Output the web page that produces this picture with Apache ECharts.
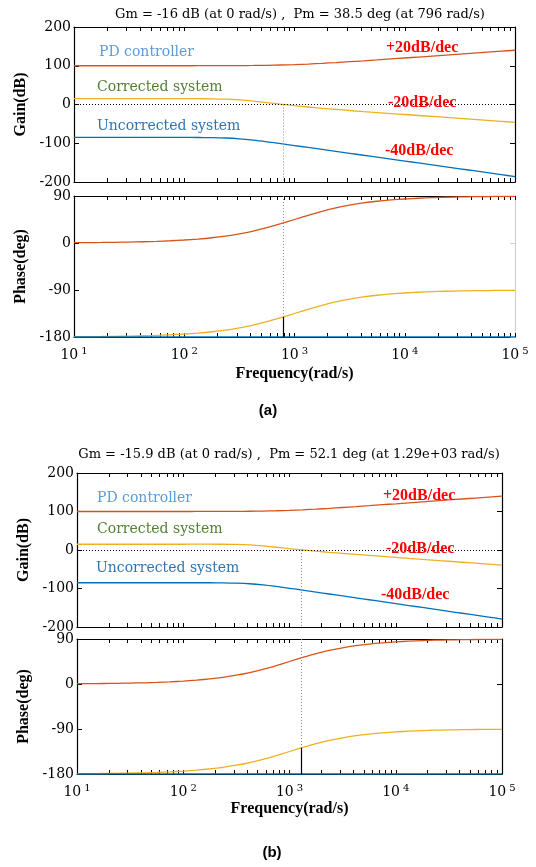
<!DOCTYPE html>
<html><head><meta charset="utf-8">
<script src="https://cdn.jsdelivr.net/npm/echarts@6/dist/echarts.min.js"></script>
<style>html,body{margin:0;padding:0;background:#fff}#c{width:536px;height:867px}</style>
</head><body><div id="c"></div><script>
// ---------- data ----------
const freq = [10, 13.3, 17.8, 23.7, 31.6, 42.2, 56.2, 75, 100, 133, 178, 237, 316, 422, 562, 750,
  1000, 1330, 1780, 2370, 3160, 4220, 5620, 7500, 10000, 13300, 17800, 23700, 31600, 42200, 56200, 75000, 100000];
const xMajor = [10, 100, 1000, 10000, 100000];
const gainTicks = [-200, -100, 0, 100, 200];
const phaseTicks = [-180, -90, 0, 90];

// (a)
const pdGainA   = [100.0,100.0,100.0,100.0,100.0,100.0,100.0,100.0,100.04,100.08,100.14,100.24,100.41,100.71,101.19,101.94,
  103.01,104.45,106.2,108.2,110.4,112.7,115.1,117.6,120.0,122.5,125.0,127.5,130.0,132.5,135.0,137.5,140.0];
const corrGainA = [15.0,15.0,15.0,15.0,15.0,15.0,15.0,15.0,14.99,14.92,14.63,13.81,11.93,8.79,4.95,0.91,
  -2.94,-6.43,-9.74,-12.71,-15.49,-18.19,-20.77,-23.34,-25.86,-28.4,-30.9,-33.4,-35.9,-38.4,-40.9,-43.4,-45.9];
const uncGainA  = [-85.0,-85.0,-85.0,-85.0,-85.0,-85.0,-85.01,-85.02,-85.05,-85.16,-85.51,-86.43,-88.48,-91.92,-96.24,-101.03,
  -105.95,-110.88,-115.94,-120.91,-125.9,-130.93,-135.9,-140.92,-145.9,-150.9,-155.9,-160.9,-165.9,-170.9,-175.9,-180.9,-185.9];
const pdPhaseA  = [0.57,0.76,1.02,1.36,1.81,2.42,3.22,4.29,5.71,7.58,10.09,13.33,17.55,22.88,29.34,36.87,
  45.0,53.06,60.67,67.13,72.44,76.67,79.91,82.41,84.29,85.7,86.78,87.58,88.19,88.64,88.98,89.24,89.43];
const corrPhaseA= [-179.43,-179.24,-178.98,-178.64,-178.19,-177.58,-176.78,-175.71,-174.29,-172.42,-169.91,-166.67,-162.45,-157.12,-150.66,-143.13,
  -135.0,-126.94,-119.33,-112.87,-107.56,-103.33,-100.09,-97.59,-95.71,-94.3,-93.22,-92.42,-91.81,-91.36,-91.02,-90.76,-90.57];
const uncPhaseA = [-180,-180,-180,-180,-180,-180,-180,-180,-180,-180,-180,-180,-180,-180,-180,-180,
  -180,-180,-180,-180,-180,-180,-180,-180,-180,-180,-180,-180,-180,-180,-180,-180,-180];
const crossA = 796, pmA = 38.5;
const titleA = 'Gm = -16 dB (at 0 rad/s) ,  Pm = 38.5 deg (at 796 rad/s)';

// (b)
const pdGainB   = [100.0,100.0,100.0,100.0,100.0,100.0,100.0,100.0,100.04,100.08,100.14,100.24,100.41,100.71,101.19,101.94,
  103.01,104.45,106.2,108.2,110.4,112.7,115.1,117.6,120.0,122.5,125.0,127.5,130.0,132.5,135.0,137.5,140.0];
const corrGainB = [15.0,15.0,15.0,15.0,15.0,15.0,15.0,15.0,15.0,15.04,15.03,14.89,14.39,13.05,10.56,7.19,
  3.59,0.18,-3.1,-6.06,-8.86,-11.54,-14.15,-16.69,-19.23,-21.77,-24.27,-26.77,-29.27,-31.77,-34.27,-36.77,-39.27];
const uncGainB  = [-85.0,-85.0,-85.0,-85.0,-85.0,-85.0,-85.0,-85.0,-85.01,-85.04,-85.11,-85.35,-86.02,-87.66,-90.63,-94.75,
  -99.42,-104.27,-109.3,-114.26,-119.26,-124.28,-129.25,-134.27,-139.27,-144.27,-149.27,-154.27,-159.27,-164.27,-169.27,-174.27,-179.27];
const pdPhaseB  = [0.57,0.76,1.02,1.36,1.81,2.42,3.22,4.29,5.71,7.58,10.09,13.33,17.55,22.88,29.34,36.87,
  45.0,53.06,60.67,67.13,72.44,76.67,79.91,82.41,84.29,85.7,86.78,87.58,88.19,88.64,88.98,89.24,89.43];
const corrPhaseB= [-179.43,-179.24,-178.98,-178.64,-178.19,-177.58,-176.78,-175.71,-174.29,-172.42,-169.91,-166.67,-162.45,-157.12,-150.66,-143.13,
  -135.0,-126.94,-119.33,-112.87,-107.56,-103.33,-100.09,-97.59,-95.71,-94.3,-93.22,-92.42,-91.81,-91.36,-91.02,-90.76,-90.57];
const uncPhaseB = [-180,-180,-180,-180,-180,-180,-180,-180,-180,-180,-180,-180,-180,-180,-180,-180,
  -180,-180,-180,-180,-180,-180,-180,-180,-180,-180,-180,-180,-180,-180,-180,-180,-180];
const crossB = 1290, pmB = 52.1;
const titleB = 'Gm = -15.9 dB (at 0 rad/s) ,  Pm = 52.1 deg (at 1.29e+03 rad/s)';

const legendTexts = ['PD controller', 'Corrected system', 'Uncorrected system'];
const slopeTexts = ['+20dB/dec', '-20dB/dec', '-40dB/dec'];

// ---------- style ----------
const C_PD = '#D95319', C_CORR = '#EDB120', C_UNC = '#0072BD';
const LEG_COLORS = ['#5B9BD5', '#538135', '#2E75B6'];
const SERIF = '"DejaVu Serif"';
const TSERIF = '"Liberation Serif"';

const xMinor = [];
for (let d = 10; d < 100000; d *= 10) for (let k = 2; k <= 9; k++) xMinor.push(d * k);
const xTickVals = xMajor.concat(xMinor);

const grids = [
  {left: 74, width: 441, top: 27, height: 155},
  {left: 74, width: 441, top: 196, height: 141},
  {left: 77, width: 425, top: 473, height: 154},
  {left: 77, width: 425, top: 639, height: 135}
];

const xAxes = [], yAxes = [];
grids.forEach((g, gi) => {
  const isPhase = gi % 2 === 1;
  const common = {
    type: 'log', logBase: 10, gridIndex: gi, min: 10, max: 100000,
    axisLine: {show: true, onZero: false, lineStyle: {color: '#000', width: 1.2}},
    axisTick: {show: true, inside: true, length: 4, customValues: xTickVals, lineStyle: {color: '#000', width: 1}},
    splitLine: {show: false}
  };
  xAxes.push(Object.assign({}, common, {
    position: 'bottom',
    axisLabel: {
      show: isPhase, customValues: xMajor, margin: 9, color: '#000',
      formatter: v => '{b|10}{s|' + Math.round(Math.log10(v)) + '}',
      rich: {
        b: {fontFamily: SERIF, fontSize: 14, color: '#000', lineHeight: 18},
        s: {fontFamily: SERIF, fontSize: 10, color: '#000', lineHeight: 10, verticalAlign: 'top', padding: [0, 0, 0, 3]}
      }
    },
    name: isPhase ? 'Frequency(rad/s)' : '',
    nameLocation: 'middle', nameGap: gi === 1 ? 29 : 27,
    nameTextStyle: {fontFamily: TSERIF, fontWeight: 'bold', fontSize: 16, color: '#000'}
  }));
  xAxes.push(Object.assign({}, common, {position: 'top', axisLabel: {show: false},
    axisLine: {show: true, onZero: false, lineStyle: {color: '#000', width: 1.2}}}));

  const yCommon = {
    type: 'value', gridIndex: gi,
    min: isPhase ? phaseTicks[0] : gainTicks[0],
    max: isPhase ? phaseTicks[phaseTicks.length - 1] : gainTicks[gainTicks.length - 1],
    interval: isPhase ? 90 : 100,
    splitLine: {show: false},
    axisTick: {show: true, inside: true, length: 5, lineStyle: {color: '#000'}}
  };
  const nameGaps = [41, 44, 34, 29];
  yAxes.push(Object.assign({}, yCommon, {
    position: 'left',
    axisLine: {show: true, onZero: false, lineStyle: {color: '#000', width: 1.2}},
    axisLabel: {fontFamily: SERIF, fontSize: 14, color: '#000', margin: 3},
    name: isPhase ? 'Phase(deg)' : 'Gain(dB)', nameLocation: 'middle', nameGap: nameGaps[gi],
    nameTextStyle: {fontFamily: TSERIF, fontWeight: 'bold', fontSize: 16, color: '#000'}
  }));
  yAxes.push(Object.assign({}, yCommon, {
    position: 'right', axisLabel: {show: false},
    axisLine: {show: true, onZero: false, lineStyle: {color: gi === 1 ? '#cfcfcf' : '#000', width: 1.2}},
    axisTick: {show: true, inside: true, length: 5, lineStyle: {color: gi === 1 ? '#cfcfcf' : '#000'}}
  }));
});

function line(vals, color, gi, extra) {
  return Object.assign({
    type: 'line', xAxisIndex: 2 * gi, yAxisIndex: 2 * gi,
    data: freq.map((f, i) => [f, vals[i]]),
    showSymbol: false, symbol: 'none', smooth: 0.25, silent: true,
    lineStyle: {color: color, width: 1.3}, itemStyle: {color: color}, z: 3
  }, extra || {});
}

const dotGray = {type: [1, 2], color: '#8a8a8a', width: 1};
const dotBlack = {type: [1, 2], color: '#000', width: 1};
const solidBlack = {type: 'solid', color: '#000', width: 1.2};

function gainMarks(cross) {
  return {markLine: {symbol: ['none', 'none'], silent: true, animation: false, label: {show: false},
    data: [
      [{coord: [10, 0], lineStyle: dotBlack}, {coord: [100000, 0], lineStyle: dotBlack}],
      [{coord: [cross, 0], lineStyle: dotGray}, {coord: [cross, -200], lineStyle: dotGray}]
    ]}};
}
function phaseMarks(cross, pm) {
  const p = -180 + pm;
  return {markLine: {symbol: ['none', 'none'], silent: true, animation: false, label: {show: false},
    data: [
      [{coord: [cross, 90], lineStyle: dotGray}, {coord: [cross, p], lineStyle: dotGray}],
      [{coord: [cross, p], lineStyle: solidBlack}, {coord: [cross, -180], lineStyle: solidBlack}]
    ]}};
}

const series = [
  line(pdGainA, C_PD, 0), line(corrGainA, C_CORR, 0, gainMarks(crossA)), line(uncGainA, C_UNC, 0),
  line(pdPhaseA, C_PD, 1), line(corrPhaseA, C_CORR, 1, phaseMarks(crossA, pmA)), line(uncPhaseA, C_UNC, 1),
  line(pdGainB, C_PD, 2), line(corrGainB, C_CORR, 2, gainMarks(crossB)), line(uncGainB, C_UNC, 2),
  line(pdPhaseB, C_PD, 3), line(corrPhaseB, C_CORR, 3, phaseMarks(crossB, pmB)), line(uncPhaseB, C_UNC, 3)
];

function txt(text, x, y, font, fill, align) {
  return {type: 'text', x: x, y: y, z: 10, silent: true,
    style: {text: text, font: font, fill: fill, align: align || 'left', verticalAlign: 'middle'}};
}
const legFont = '14px ' + SERIF;
const redFont = 'bold 16px ' + TSERIF;
const graphic = [
  txt(titleA, 300, 15, '13px ' + SERIF, '#000', 'center'),
  txt(legendTexts[0], 99, 52, legFont, LEG_COLORS[0]),
  txt(legendTexts[1], 97, 87, legFont, LEG_COLORS[1]),
  txt(legendTexts[2], 97, 126, legFont, LEG_COLORS[2]),
  txt(slopeTexts[0], 386, 48, redFont, '#FF0000'),
  txt(slopeTexts[1], 388, 103, redFont, '#FF0000'),
  txt(slopeTexts[2], 385, 151, redFont, '#FF0000'),
  txt('(a)', 268, 411, 'bold 15px "Liberation Sans"', '#000', 'center'),

  txt(titleB, 289, 455, '13px ' + SERIF, '#000', 'center'),
  txt(legendTexts[0], 97, 498, legFont, LEG_COLORS[0]),
  txt(legendTexts[1], 97, 529, legFont, LEG_COLORS[1]),
  txt(legendTexts[2], 96, 568, legFont, LEG_COLORS[2]),
  txt(slopeTexts[0], 383, 496, redFont, '#FF0000'),
  txt(slopeTexts[1], 386, 549, redFont, '#FF0000'),
  txt(slopeTexts[2], 381, 595, redFont, '#FF0000'),
  txt('(b)', 272, 853, 'bold 15px "Liberation Sans"', '#000', 'center')
];

const chart = echarts.init(document.getElementById('c'), null, {renderer: 'canvas'});
chart.setOption({
  animation: false,
  backgroundColor: '#fff',
  grid: grids,
  xAxis: xAxes,
  yAxis: yAxes,
  series: series,
  graphic: graphic
});
</script></body></html>
